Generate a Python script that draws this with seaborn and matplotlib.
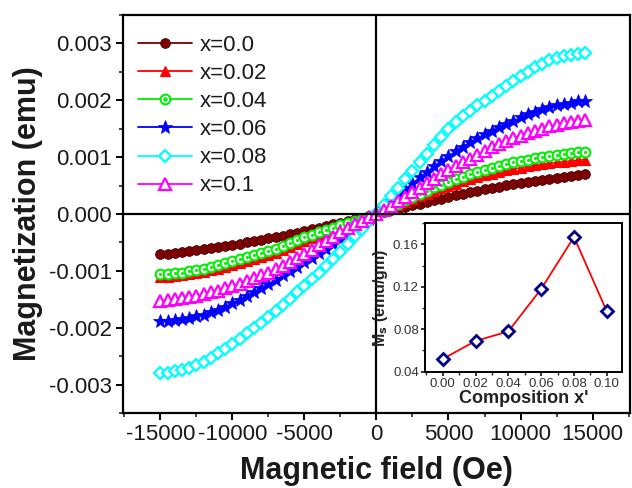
import numpy as np
import matplotlib
matplotlib.use("Agg")
import matplotlib.pyplot as plt
import seaborn as sns
from matplotlib.lines import Line2D
from matplotlib.legend_handler import HandlerTuple
from matplotlib.ticker import MultipleLocator, FormatStrFormatter, FixedLocator

# ---------------- data ----------------
field_oe = [-15000, -14500, -14000, -13500, -13000, -12500, -12000, -11500, -11000, -10500,
            -10000, -9500, -9000, -8500, -8000, -7500, -7000, -6500, -6000, -5500,
            -5000, -4500, -4000, -3500, -3000, -2500, -2000, -1500, -1000, -500,
            0, 500, 1000, 1500, 2000, 2500, 3000, 3500, 4000, 4500,
            5000, 5500, 6000, 6500, 7000, 7500, 8000, 8500, 9000, 9500,
            10000, 10500, 11000, 11500, 12000, 12500, 13000, 13500, 14000, 14500]

# magnetization in units of 1e-3 emu
m_x000 = [-0.710, -0.696, -0.682, -0.667, -0.652, -0.636, -0.619, -0.601, -0.583, -0.563,
          -0.543, -0.522, -0.500, -0.478, -0.455, -0.431, -0.406, -0.380, -0.354, -0.327,
          -0.300, -0.272, -0.243, -0.214, -0.184, -0.154, -0.123, -0.093, -0.062, -0.031,
          0.0, 0.031, 0.062, 0.093, 0.124, 0.154, 0.184, 0.214, 0.243, 0.272,
          0.300, 0.328, 0.355, 0.381, 0.407, 0.432, 0.456, 0.479, 0.502, 0.523,
          0.544, 0.565, 0.584, 0.602, 0.620, 0.637, 0.653, 0.669, 0.684, 0.698]
m_x002 = [-1.11, -1.10, -1.09, -1.08, -1.06, -1.04, -1.02, -0.99, -0.96, -0.93,
          -0.90, -0.87, -0.83, -0.80, -0.76, -0.72, -0.68, -0.63, -0.58, -0.53,
          -0.48, -0.43, -0.38, -0.34, -0.30, -0.25, -0.20, -0.15, -0.10, -0.05,
          0.0, 0.053, 0.107, 0.159, 0.211, 0.262, 0.312, 0.360, 0.406, 0.451,
          0.494, 0.536, 0.575, 0.612, 0.647, 0.680, 0.710, 0.739, 0.766, 0.792,
          0.815, 0.837, 0.857, 0.875, 0.892, 0.908, 0.922, 0.935, 0.947, 0.958]
m_x004 = [-1.06, -1.05, -1.04, -1.03, -1.01, -0.99, -0.96, -0.93, -0.90, -0.87,
          -0.83, -0.80, -0.76, -0.73, -0.69, -0.65, -0.61, -0.56, -0.51, -0.46,
          -0.41, -0.37, -0.32, -0.28, -0.24, -0.20, -0.16, -0.12, -0.08, -0.04,
          0.0, 0.061, 0.122, 0.183, 0.242, 0.300, 0.357, 0.412, 0.466, 0.517,
          0.567, 0.614, 0.658, 0.701, 0.741, 0.779, 0.814, 0.847, 0.878, 0.907,
          0.934, 0.958, 0.981, 1.003, 1.022, 1.040, 1.056, 1.072, 1.086, 1.098]
m_x006 = [-1.89, -1.88, -1.87, -1.85, -1.83, -1.80, -1.77, -1.73, -1.68, -1.63,
          -1.57, -1.51, -1.44, -1.37, -1.30, -1.23, -1.16, -1.08, -1.01, -0.93,
          -0.85, -0.77, -0.69, -0.61, -0.53, -0.44, -0.35, -0.26, -0.17, -0.09,
          0.0, 0.110, 0.220, 0.329, 0.436, 0.540, 0.643, 0.742, 0.838, 0.931,
          1.020, 1.105, 1.185, 1.262, 1.334, 1.402, 1.465, 1.525, 1.581, 1.633,
          1.70, 1.75, 1.80, 1.84, 1.88, 1.91, 1.94, 1.96, 1.98, 1.99]
m_x008 = [-2.80, -2.79, -2.77, -2.75, -2.71, -2.66, -2.60, -2.53, -2.45, -2.37,
          -2.28, -2.19, -2.10, -2.01, -1.91, -1.81, -1.71, -1.60, -1.49, -1.38,
          -1.27, -1.15, -1.03, -0.91, -0.79, -0.66, -0.53, -0.39, -0.26, -0.13,
          0.0, 0.15, 0.31, 0.46, 0.61, 0.76, 0.91, 1.06, 1.21, 1.36,
          1.49, 1.61, 1.72, 1.82, 1.91, 1.99, 2.08, 2.16, 2.25, 2.34,
          2.42, 2.50, 2.58, 2.64, 2.70, 2.75, 2.78, 2.80, 2.82, 2.83]
m_x010 = [-1.53, -1.52, -1.50, -1.48, -1.46, -1.44, -1.41, -1.38, -1.35, -1.31,
          -1.27, -1.23, -1.18, -1.13, -1.08, -1.03, -0.97, -0.91, -0.84, -0.77,
          -0.70, -0.63, -0.55, -0.47, -0.40, -0.32, -0.25, -0.18, -0.12, -0.06,
          0.0, 0.07, 0.14, 0.22, 0.30, 0.38, 0.46, 0.54, 0.62, 0.70,
          0.77, 0.84, 0.91, 0.97, 1.04, 1.10, 1.17, 1.23, 1.28, 1.33,
          1.38, 1.42, 1.46, 1.50, 1.54, 1.57, 1.60, 1.62, 1.64, 1.65]

series_labels = ["x=0.0", "x=0.02", "x=0.04", "x=0.06", "x=0.08", "x=0.1"]

composition = [0.00, 0.02, 0.04, 0.06, 0.08, 0.10]
ms_values = [0.052, 0.069, 0.078, 0.118, 0.167, 0.097]

x_ticks = [-15000, -10000, -5000, 0, 5000, 10000, 15000]
y_ticks = [-0.003, -0.002, -0.001, 0.0, 0.001, 0.002, 0.003]
inset_x_ticks = [0.00, 0.02, 0.04, 0.06, 0.08, 0.10]
inset_y_ticks = [0.04, 0.08, 0.12, 0.16]

# ---------------- style ----------------
sns.set_theme(style="ticks")
plt.rcParams['font.family'] = ['Liberation Sans', 'DejaVu Sans']
plt.rcParams['axes.unicode_minus'] = False
plt.rcParams['axes.linewidth'] = 1.6

fig = plt.figure(figsize=(6.32, 4.88), dpi=100)
ax = fig.add_axes([0.1946, 0.1537, 0.8022, 0.8156])

styles = [
    dict(color='#7a0000', marker='o', markersize=7, markerfacecolor='#800000',
         markeredgecolor='#3d0000', markeredgewidth=0.6),
    dict(color='#ff0000', marker='^', markersize=7, markerfacecolor='#ff0000',
         markeredgecolor='#ff0000', markeredgewidth=0.8),
    dict(color='#00ee00', marker='o', markersize=7, markerfacecolor='white',
         markeredgecolor='#00ee00', markeredgewidth=1.5),
    dict(color='#0000ff', marker='*', markersize=10, markerfacecolor='#0000ff',
         markeredgecolor='#0000ff', markeredgewidth=0.5),
    dict(color='#00ffff', marker='D', markersize=6, markerfacecolor='white',
         markeredgecolor='#00ffff', markeredgewidth=1.6),
    dict(color='#ff00ff', marker='^', markersize=8, markerfacecolor='white',
         markeredgecolor='#ff00ff', markeredgewidth=1.6),
]

field = np.array(field_oe, dtype=float)
all_series = [m_x000, m_x002, m_x004, m_x006, m_x008, m_x010]

handles = []
for vals, st, lab in zip(all_series, styles, series_labels):
    m = np.array(vals) * 1e-3
    sns.lineplot(x=field, y=m, ax=ax, linewidth=1.0, legend=False, **st)
    h = Line2D([], [], linewidth=1.3, **st)
    if lab == "x=0.04":
        sns.lineplot(x=field, y=m, ax=ax, linestyle='none', marker='o', markersize=2.2,
                     markerfacecolor='#00ee00', markeredgecolor='#00ee00',
                     markeredgewidth=0.0, color='#00ee00', legend=False)
        dot = Line2D([], [], linestyle='none', marker='o', markersize=2.2,
                     markerfacecolor='#00ee00', markeredgecolor='#00ee00')
        h = (h, dot)
    handles.append(h)

ax.axhline(0, color='black', linewidth=1.6, zorder=5)
ax.axvline(0, color='black', linewidth=1.6, zorder=5)

ax.set_xlim(-17600, 17600)
ax.set_ylim(-0.0035, 0.0035)
ax.xaxis.set_major_locator(FixedLocator(x_ticks))
ax.xaxis.set_minor_locator(MultipleLocator(2500))
ax.yaxis.set_major_locator(FixedLocator(y_ticks))
ax.yaxis.set_minor_locator(MultipleLocator(0.0005))
ax.yaxis.set_major_formatter(FormatStrFormatter('%.3f'))
ax.xaxis.set_major_formatter(FormatStrFormatter('%d'))
ax.tick_params(axis='both', which='major', direction='out', length=5, width=1.4,
               labelsize=16, colors='black', pad=3)
ax.tick_params(axis='both', which='minor', direction='out', length=3, width=1.2)
ax.tick_params(axis='both', labelcolor='#1a1a1a')
for s in ax.spines.values():
    s.set_color('black')
    s.set_linewidth(1.6)

ax.set_xlabel("Magnetic field (Oe)", fontsize=22, fontweight='bold', color='#1a1a1a', labelpad=8)
ax.set_ylabel("Magnetization (emu)", fontsize=22, fontweight='bold', color='#1a1a1a', labelpad=4)

leg = ax.legend(handles, series_labels, loc='upper left', bbox_to_anchor=(0.03, 0.950),
                frameon=False, fontsize=16, handlelength=2.4, handletextpad=0.35,
                labelspacing=0.32, borderpad=0.0, borderaxespad=0.0,
                handler_map={tuple: HandlerTuple(ndivide=1)})
for t in leg.get_texts():
    t.set_color('#1a1a1a')

# ---------------- inset ----------------
axi = fig.add_axes([0.6725, 0.2383, 0.3112, 0.3043])
axi.set_facecolor('white')
sns.lineplot(x=composition, y=ms_values, ax=axi, color='#ff0000', linewidth=1.3,
             marker='D', markersize=6, markerfacecolor='white',
             markeredgecolor='#00008b', markeredgewidth=2.0, legend=False)
axi.set_xlim(-0.0108, 0.1091)
axi.set_ylim(0.04, 0.18)
axi.xaxis.set_major_locator(FixedLocator(inset_x_ticks))
axi.xaxis.set_minor_locator(MultipleLocator(0.01))
axi.yaxis.set_major_locator(FixedLocator(inset_y_ticks))
axi.yaxis.set_minor_locator(MultipleLocator(0.02))
axi.xaxis.set_major_formatter(FormatStrFormatter('%.2f'))
axi.yaxis.set_major_formatter(FormatStrFormatter('%.2f'))
axi.tick_params(axis='both', which='major', direction='out', length=3, width=1.1,
                labelsize=9.5, pad=1.5, colors='black', labelcolor='#333333')
axi.tick_params(axis='both', which='minor', direction='out', length=2, width=1.0)
for s in axi.spines.values():
    s.set_color('black')
    s.set_linewidth(1.4)
axi.set_xlabel("Composition x'", fontsize=13, fontweight='bold', color='#222222', labelpad=0)
axi.set_ylabel(r"M$_\mathbf{s}$ (emu/gm)", fontsize=11.5, fontweight='bold', color='#222222', labelpad=2)

fig.savefig("out.png", dpi=100)
